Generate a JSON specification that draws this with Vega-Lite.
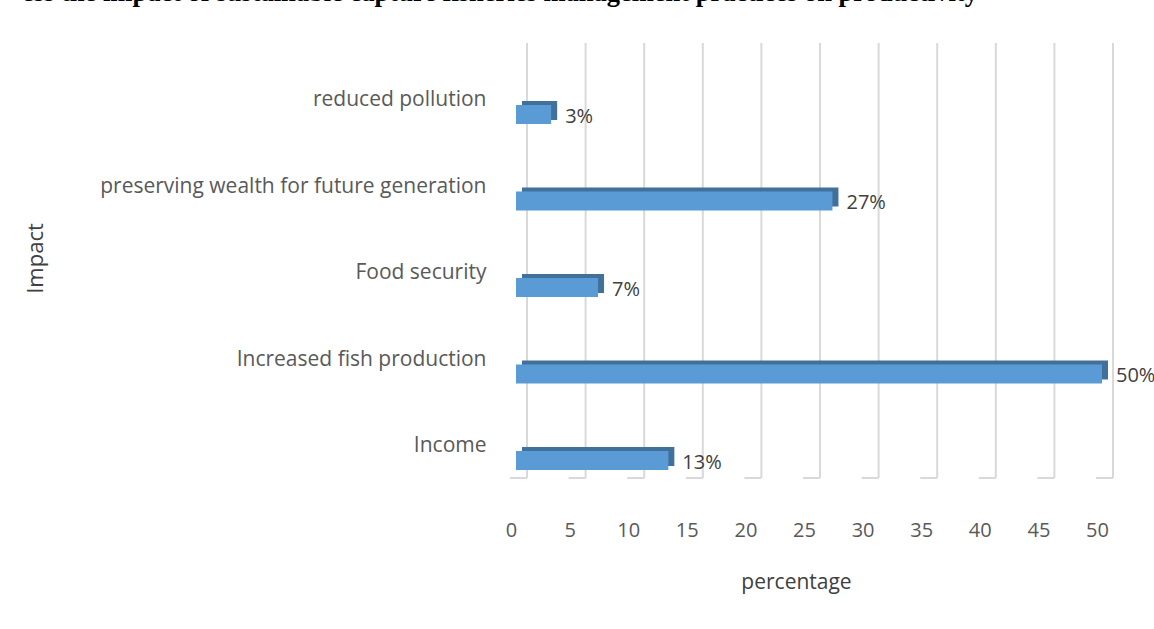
{
  "$schema": "https://vega.github.io/schema/vega-lite/v6.json",
  "width": 586,
  "height": 435,
  "autosize": {"type": "none"},
  "padding": {"left": 516, "top": 43, "right": 52, "bottom": 151},
  "background": "white",
  "config": {"view": {"stroke": null}, "font": "Open Sans"},
  "title": {
    "text": "ess the impact of sustainable capture fisheries management practices on productivity",
    "anchor": "start",
    "frame": "group",
    "orient": "top",
    "offset": 0,
    "baseline": "alphabetic",
    "dx": -494,
    "dy": -15,
    "font": "Liberation Serif",
    "fontWeight": "bold",
    "fontSize": 26.5,
    "color": "#000000"
  },
  "datasets": {
    "bars": [
      {"impact": "reduced pollution", "pct": 3, "label": "3%"},
      {"impact": "preserving wealth for future generation", "pct": 27, "label": "27%"},
      {"impact": "Food security", "pct": 7, "label": "7%"},
      {"impact": "Increased fish production", "pct": 50, "label": "50%"},
      {"impact": "Income", "pct": 13, "label": "13%"}
    ],
    "grid": [
      {"g": 0}, {"g": 5}, {"g": 10}, {"g": 15}, {"g": 20}, {"g": 25},
      {"g": 30}, {"g": 35}, {"g": 40}, {"g": 45}, {"g": 50}
    ]
  },
  "layer": [
    {
      "data": {"name": "grid"},
      "mark": {"type": "rule", "color": "#d9d9d9", "strokeWidth": 2, "xOffset": 11},
      "encoding": {
        "x": {"field": "g", "type": "quantitative", "scale": {"domain": [0, 50], "nice": false, "zero": true},
              "axis": {"values": [0,5,10,15,20,25,30,35,40,45,50], "grid": false, "domain": false, "ticks": false,
                       "labelFlush": false, "labelOverlap": false,
                       "labelPadding": 42, "labelOffset": -5, "labelFontSize": 20, "labelColor": "#595959",
                       "title": "percentage", "titleFontSize": 21, "titleFontWeight": "normal", "titleColor": "#404040",
                       "titleX": 280, "titleY": 104, "titleBaseline": "middle", "titleAlign": "center", "titleAnchor": null}}
      }
    },
    {
      "data": {"name": "grid"},
      "mark": {"type": "rule", "color": "#d9d9d9", "strokeWidth": 2, "y": "height", "y2": "height", "y2Offset": 17, "xOffset": 11, "x2Offset": -6},
      "encoding": {
        "x": {"field": "g", "type": "quantitative"},
        "x2": {"field": "g"}
      }
    },
    {
      "data": {"name": "bars"},
      "mark": {"type": "bar", "color": "#41709b", "xOffset": 6, "x2Offset": 6, "yOffset": -4},
      "encoding": {
        "y": {"field": "impact", "type": "nominal", "sort": null,
              "scale": {"paddingInner": 0.7803, "paddingOuter": 0.4046, "align": 0.886},
              "axis": {"domain": false, "ticks": false, "labelPadding": 30, "labelOffset": -14.5,
                       "labelFontSize": 21, "labelColor": "#595959", "labelLimit": 600,
                       "title": "Impact", "titleFontSize": 22, "titleFontWeight": "normal", "titleColor": "#404040",
                       "titleX": -481, "titleY": 215, "titleAngle": -90, "titleBaseline": "middle", "titleAlign": "center", "titleAnchor": null}},
        "x": {"field": "pct", "type": "quantitative"}
      }
    },
    {
      "data": {"name": "bars"},
      "mark": {"type": "bar", "color": "#5b9bd5"},
      "encoding": {
        "y": {"field": "impact", "type": "nominal", "sort": null},
        "x": {"field": "pct", "type": "quantitative"}
      }
    },
    {
      "data": {"name": "bars"},
      "mark": {"type": "text", "align": "left", "baseline": "middle", "dx": 14, "dy": 2, "fontSize": 20, "color": "#404040"},
      "encoding": {
        "y": {"field": "impact", "type": "nominal", "sort": null},
        "x": {"field": "pct", "type": "quantitative"},
        "text": {"field": "label"}
      }
    }
  ]
}
